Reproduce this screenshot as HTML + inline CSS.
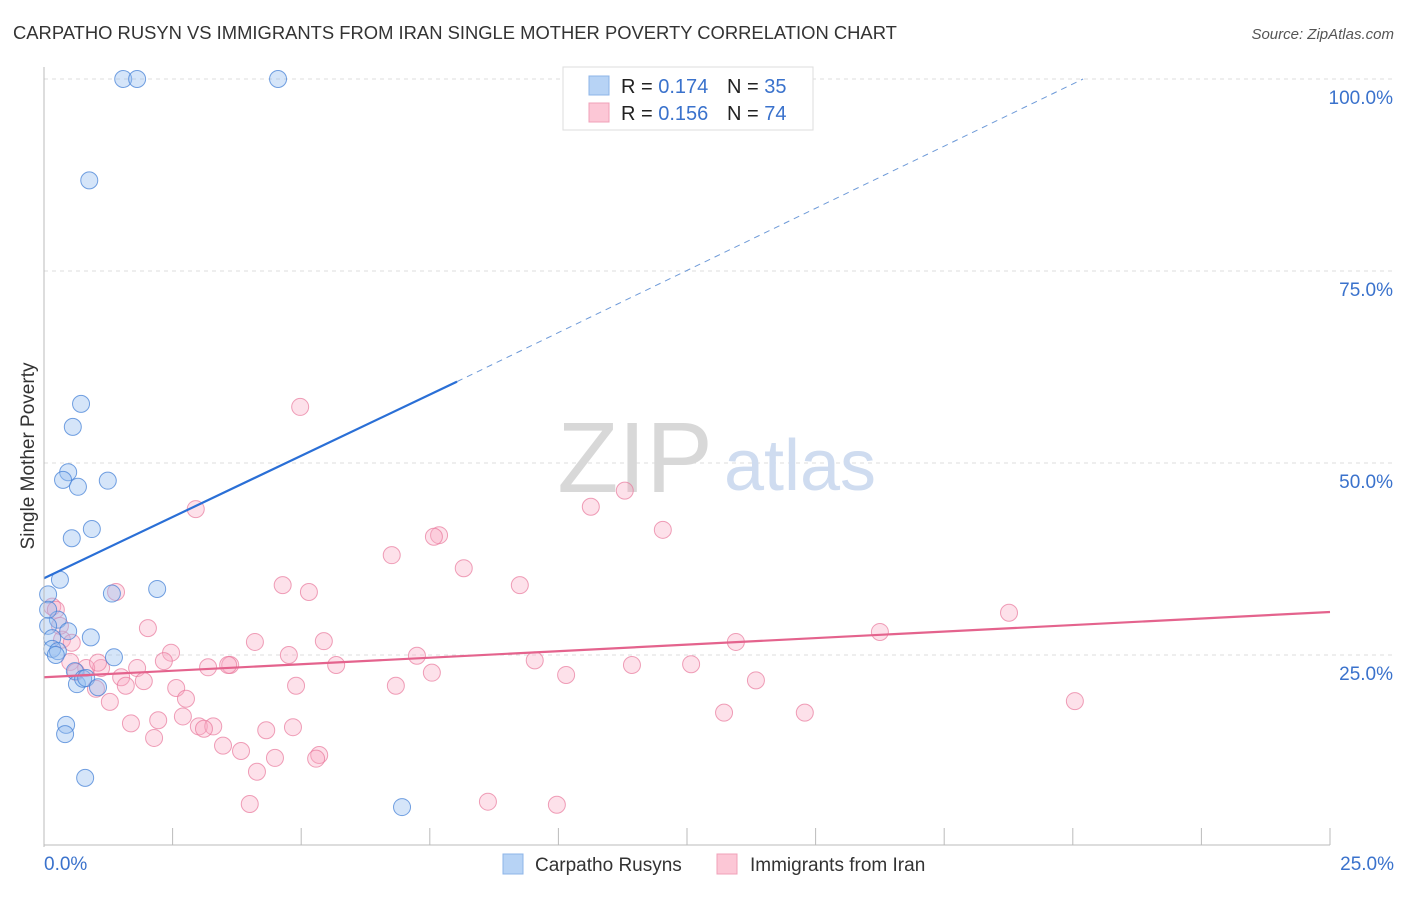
<!DOCTYPE html>
<html><head><meta charset="utf-8">
<style>
body{margin:0;background:#fff;font-family:"Liberation Sans",sans-serif;}
svg text{font-family:"Liberation Sans",sans-serif;}
</style></head>
<body>
<svg id="chart" width="1406" height="892" xmlns="http://www.w3.org/2000/svg">
<text x="13" y="39" font-size="18.4" fill="#333">CARPATHO RUSYN VS IMMIGRANTS FROM IRAN SINGLE MOTHER POVERTY CORRELATION CHART</text>
<text x="1394" y="39" font-size="15" fill="#555" text-anchor="end" font-style="italic">Source: ZipAtlas.com</text>
<text transform="translate(34,456) rotate(-90)" font-size="19" fill="#333" text-anchor="middle">Single Mother Poverty</text>
<g id="grid"></g>
<g>
<text x="635" y="492" font-size="100" fill="#d8d8d8" font-family="Liberation Serif" text-anchor="middle">ZIP</text>
<text x="800" y="490" font-size="72" fill="#cfdcf0" text-anchor="middle">atlas</text>
</g>
<g id="pts"></g>
<g id="lines"></g>
<g id="axes"></g>
<g>
<rect x="563" y="67" width="250" height="63" fill="#fff" stroke="#ddd"/>
<rect x="589" y="76" width="20" height="19" fill="#b7d3f5" stroke="#8db4e8"/>
<rect x="589" y="103" width="20" height="19" fill="#fcc7d6" stroke="#f0a0b8"/>
<text x="621" y="93" font-size="20" fill="#222">R = <tspan fill="#3a72cc">0.174</tspan></text>
<text x="727" y="93" font-size="20" fill="#222">N = <tspan fill="#3a72cc">35</tspan></text>
<text x="621" y="120" font-size="20" fill="#222">R = <tspan fill="#3a72cc">0.156</tspan></text>
<text x="727" y="120" font-size="20" fill="#222">N = <tspan fill="#3a72cc">74</tspan></text>
</g>
<g>
<g><rect x="503" y="854" width="20" height="20" fill="#b7d3f5" stroke="#8db4e8"/>
<text x="535" y="871" font-size="19" fill="#333">Carpatho Rusyns</text></g>
<g><rect x="717" y="854" width="20" height="20" fill="#fcc7d6" stroke="#f0a0b8"/>
<text x="750" y="871" font-size="19" fill="#333">Immigrants from Iran</text></g>
</g>
</svg>
<script>
const xTicks=[0,25];
const xTickLabels=["0.0%","25.0%"];
const yTicks=[25,50,75,100];
const yTickLabels=["25.0%","50.0%","75.0%","100.0%"];
const blueX=[1.54,1.81,4.55,0.88,0.72,0.56,0.47,0.37,0.66,1.24,0.93,0.54,0.31,2.2,1.32,0.08,0.27,0.08,0.47,0.91,0.16,0.16,0.27,0.23,1.36,0.6,0.64,0.76,0.82,1.05,0.43,0.41,0.8,6.96,0.08];
const blueY=[100,100,100,86.8,57.7,54.7,48.8,47.8,46.9,47.7,41.4,40.2,34.8,33.6,33.0,32.9,29.6,28.8,28.1,27.3,27.2,25.8,25.5,25.0,24.7,22.9,21.2,21.9,22.0,20.8,15.9,14.7,9.0,5.2,30.9];
const pinkX=[2.95,4.98,10.63,11.29,12.03,7.68,7.58,6.76,8.16,9.25,4.64,5.15,1.4,0.16,2.02,4.1,5.44,2.47,7.25,4.76,2.33,1.81,3.19,3.62,3.58,5.68,9.54,11.43,12.58,13.45,16.25,18.76,7.54,10.15,13.84,1.11,0.82,1.5,1.94,2.57,1.59,1.01,2.76,4.9,6.84,1.28,1.69,2.22,2.7,3.01,3.29,3.11,4.32,4.84,3.48,3.83,4.49,5.35,5.29,4.14,4.0,8.63,9.97,13.22,14.79,20.04,2.14,0.35,0.54,0.51,0.62,0.23,0.31,1.05];
const pinkY=[44.0,57.3,44.3,46.4,41.3,40.6,40.4,38.0,36.3,34.1,34.1,33.2,33.2,31.3,28.5,26.7,26.8,25.3,24.9,25.0,24.2,23.3,23.4,23.7,23.7,23.7,24.3,23.7,23.8,26.7,28.0,30.5,22.7,22.4,21.7,23.3,23.3,22.1,21.6,20.7,21.0,20.6,19.3,21.0,21.0,18.9,16.1,16.5,17.0,15.7,15.7,15.4,15.2,15.6,13.2,12.5,11.6,11.98,11.5,9.8,5.6,5.9,5.5,17.5,17.5,19.0,14.2,27.0,26.6,24.1,22.8,30.9,28.8,24.0];
const blueLine=[0,35.0,8.03,60.6,20.2,100];
const pinkLine=[0,22.1,25,30.6];
const NS="http://www.w3.org/2000/svg";
const X=v=>44+v/25*1286, Y=v=>847-v/100*768;
function mk(t,a,p){const e=document.createElementNS(NS,t);for(const k in a)e.setAttribute(k,a[k]);p.appendChild(e);return e;}
const grid=document.getElementById('grid'),axes=document.getElementById('axes');
yTicks.forEach((t,i)=>{
 const l=mk('line',{x1:44,x2:1394,y1:Y(t),y2:Y(t),stroke:'#ddd','stroke-dasharray':'4,4'},grid);
 
 
 const tx=mk('text',{x:1393,y:Y(t)+25,'font-size':19,fill:'#3a72cc','text-anchor':'end'},axes);
 tx.textContent=yTickLabels[i];
 
 
});
mk('line',{x1:44,x2:44,y1:67,y2:847,stroke:'#bbb'},axes);
mk('line',{x1:44,x2:1330,y1:845,y2:845,stroke:'#bbb'},axes);
for(let i=0;i<=10;i++){const x=44+i*128.6;mk('line',{x1:x,x2:x,y1:828,y2:845,stroke:'#bbb'},axes);}
xTicks.forEach((t,i)=>{
 const tx=mk('text',{x:t===0?X(t):X(t)+64,y:870,'font-size':19,fill:'#3a72cc','text-anchor':t===0?'start':'end'},axes);
 tx.textContent=xTickLabels[i];
 
 
});
const pts=document.getElementById('pts');
pinkX.forEach((v,i)=>{
 const c=mk('circle',{cx:X(v),cy:Y(pinkY[i]),r:8.5,fill:'rgba(248,170,195,0.35)',stroke:'rgba(232,120,155,0.7)','stroke-width':1},pts);
 
 
});
blueX.forEach((v,i)=>{
 const c=mk('circle',{cx:X(v),cy:Y(blueY[i]),r:8.5,fill:'rgba(150,190,240,0.4)',stroke:'rgba(70,130,215,0.75)','stroke-width':1},pts);
 
 
});
const lines=document.getElementById('lines');
const b1=mk('line',{x1:X(blueLine[0]),y1:Y(blueLine[1]),x2:X(blueLine[2]),y2:Y(blueLine[3]),stroke:'#2a6fd6','stroke-width':2.2},lines);


const b2=mk('line',{x1:X(blueLine[2]),y1:Y(blueLine[3]),x2:X(blueLine[4]),y2:Y(blueLine[5]),stroke:'#6e9ad8','stroke-width':1,'stroke-dasharray':'6,5'},lines);


const p1=mk('line',{x1:X(pinkLine[0]),y1:Y(pinkLine[1]),x2:X(pinkLine[2]),y2:Y(pinkLine[3]),stroke:'#e4638d','stroke-width':2.2},lines);


</script>
</body></html>
